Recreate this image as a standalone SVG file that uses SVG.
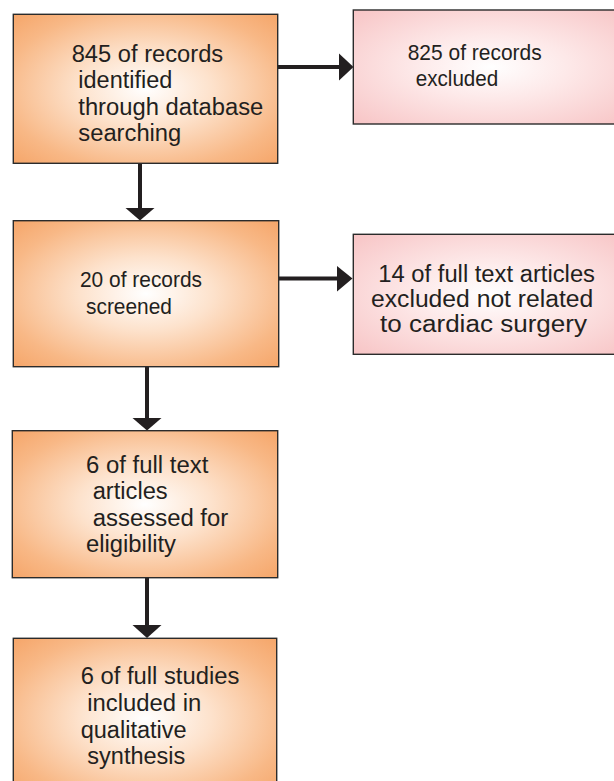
<svg xmlns="http://www.w3.org/2000/svg" width="614" height="781" viewBox="0 0 614 781">
<defs>
<radialGradient id="gOrange" cx="0.5" cy="0.5" r="0.72">
<stop offset="0" stop-color="#ffffff"/>
<stop offset="0.35" stop-color="#fde2cc"/>
<stop offset="0.75" stop-color="#f8b886"/>
<stop offset="1" stop-color="#f5a467"/>
</radialGradient>
<radialGradient id="gPink" cx="0.5" cy="0.5" r="0.72">
<stop offset="0" stop-color="#ffffff"/>
<stop offset="0.4" stop-color="#fde8e8"/>
<stop offset="1" stop-color="#f7c3c4"/>
</radialGradient>
</defs>
<style>
.ob{fill:url(#gOrange);stroke:#2b2b2b;stroke-width:1.4}
.pb{fill:url(#gPink);stroke:#2b2b2b;stroke-width:1.4}
text{font-family:"Liberation Sans",Arial,sans-serif;fill:#231f20}
.big{font-size:23.5px}
.sm{font-size:22.5px}
.ln{stroke:#231f20;stroke-width:4;fill:none}
.hd{fill:#231f20}
</style>
<g id="connectors">
<line class="ln" x1="278" y1="67" x2="341" y2="67"/>
<polygon class="hd" points="339,53.5 353.5,67 339,80.5"/>
<line class="ln" x1="140" y1="163" x2="140" y2="210"/>
<polygon class="hd" points="125.5,208 154.5,208 140,220.5"/>
<line class="ln" x1="278" y1="278.5" x2="339" y2="278.5"/>
<polygon class="hd" points="337,266 352.5,278.5 337,291.5"/>
<line class="ln" x1="147" y1="367" x2="147" y2="420"/>
<polygon class="hd" points="132.5,418 161.5,418 147,430.5"/>
<line class="ln" x1="147" y1="578" x2="147" y2="627"/>
<polygon class="hd" points="132.5,625 161.5,625 147,638"/>
</g>
<g id="n1">
<rect class="ob" x="13.3" y="14.3" width="264.4" height="149"/>
<text class="big" x="71.7" y="61.7" textLength="151.5" lengthAdjust="spacingAndGlyphs">845 of records</text>
<text class="big" x="78.3" y="88.3" textLength="94" lengthAdjust="spacingAndGlyphs">identified</text>
<text class="big" x="78.3" y="115" textLength="185" lengthAdjust="spacingAndGlyphs">through database</text>
<text class="big" x="78.3" y="141" textLength="103" lengthAdjust="spacingAndGlyphs">searching</text>
</g>
<g id="n2">
<rect class="pb" x="353.3" y="10" width="275" height="114"/>
<text class="sm" x="407.7" y="60" textLength="134" lengthAdjust="spacingAndGlyphs">825 of records</text>
<text class="sm" x="415.7" y="85.5" textLength="82.6" lengthAdjust="spacingAndGlyphs">excluded</text>
</g>
<g id="n3">
<rect class="ob" x="13.3" y="220.7" width="265.4" height="146"/>
<text class="sm" x="80" y="287" textLength="122" lengthAdjust="spacingAndGlyphs">20 of records</text>
<text class="sm" x="86" y="313.5" textLength="86" lengthAdjust="spacingAndGlyphs">screened</text>
</g>
<g id="n4">
<rect class="pb" x="353.3" y="234.3" width="275" height="120"/>
<text class="big" x="378.3" y="281.7" textLength="216.7" lengthAdjust="spacingAndGlyphs">14 of full text articles</text>
<text class="big" x="371" y="306.7" textLength="222.3" lengthAdjust="spacingAndGlyphs">excluded not related</text>
<text class="big" x="380" y="331.7" textLength="207" lengthAdjust="spacingAndGlyphs">to cardiac surgery</text>
</g>
<g id="n5">
<rect class="ob" x="12.3" y="430.7" width="265.4" height="147"/>
<text class="big" x="86" y="472.7" textLength="122.3" lengthAdjust="spacingAndGlyphs">6 of full text</text>
<text class="big" x="92.7" y="499.3" textLength="75" lengthAdjust="spacingAndGlyphs">articles</text>
<text class="big" x="92.7" y="525.5" textLength="135.6" lengthAdjust="spacingAndGlyphs">assessed for</text>
<text class="big" x="86" y="551.5" textLength="90" lengthAdjust="spacingAndGlyphs">eligibility</text>
</g>
<g id="n6">
<rect class="ob" x="13.3" y="638.3" width="263.4" height="160"/>
<text class="big" x="80.7" y="684.3" textLength="158.6" lengthAdjust="spacingAndGlyphs">6 of full studies</text>
<text class="big" x="87.3" y="711.3" textLength="114" lengthAdjust="spacingAndGlyphs">included in</text>
<text class="big" x="80.7" y="738" textLength="106" lengthAdjust="spacingAndGlyphs">qualitative</text>
<text class="big" x="87.3" y="764" textLength="98" lengthAdjust="spacingAndGlyphs">synthesis</text>
</g>
</svg>
